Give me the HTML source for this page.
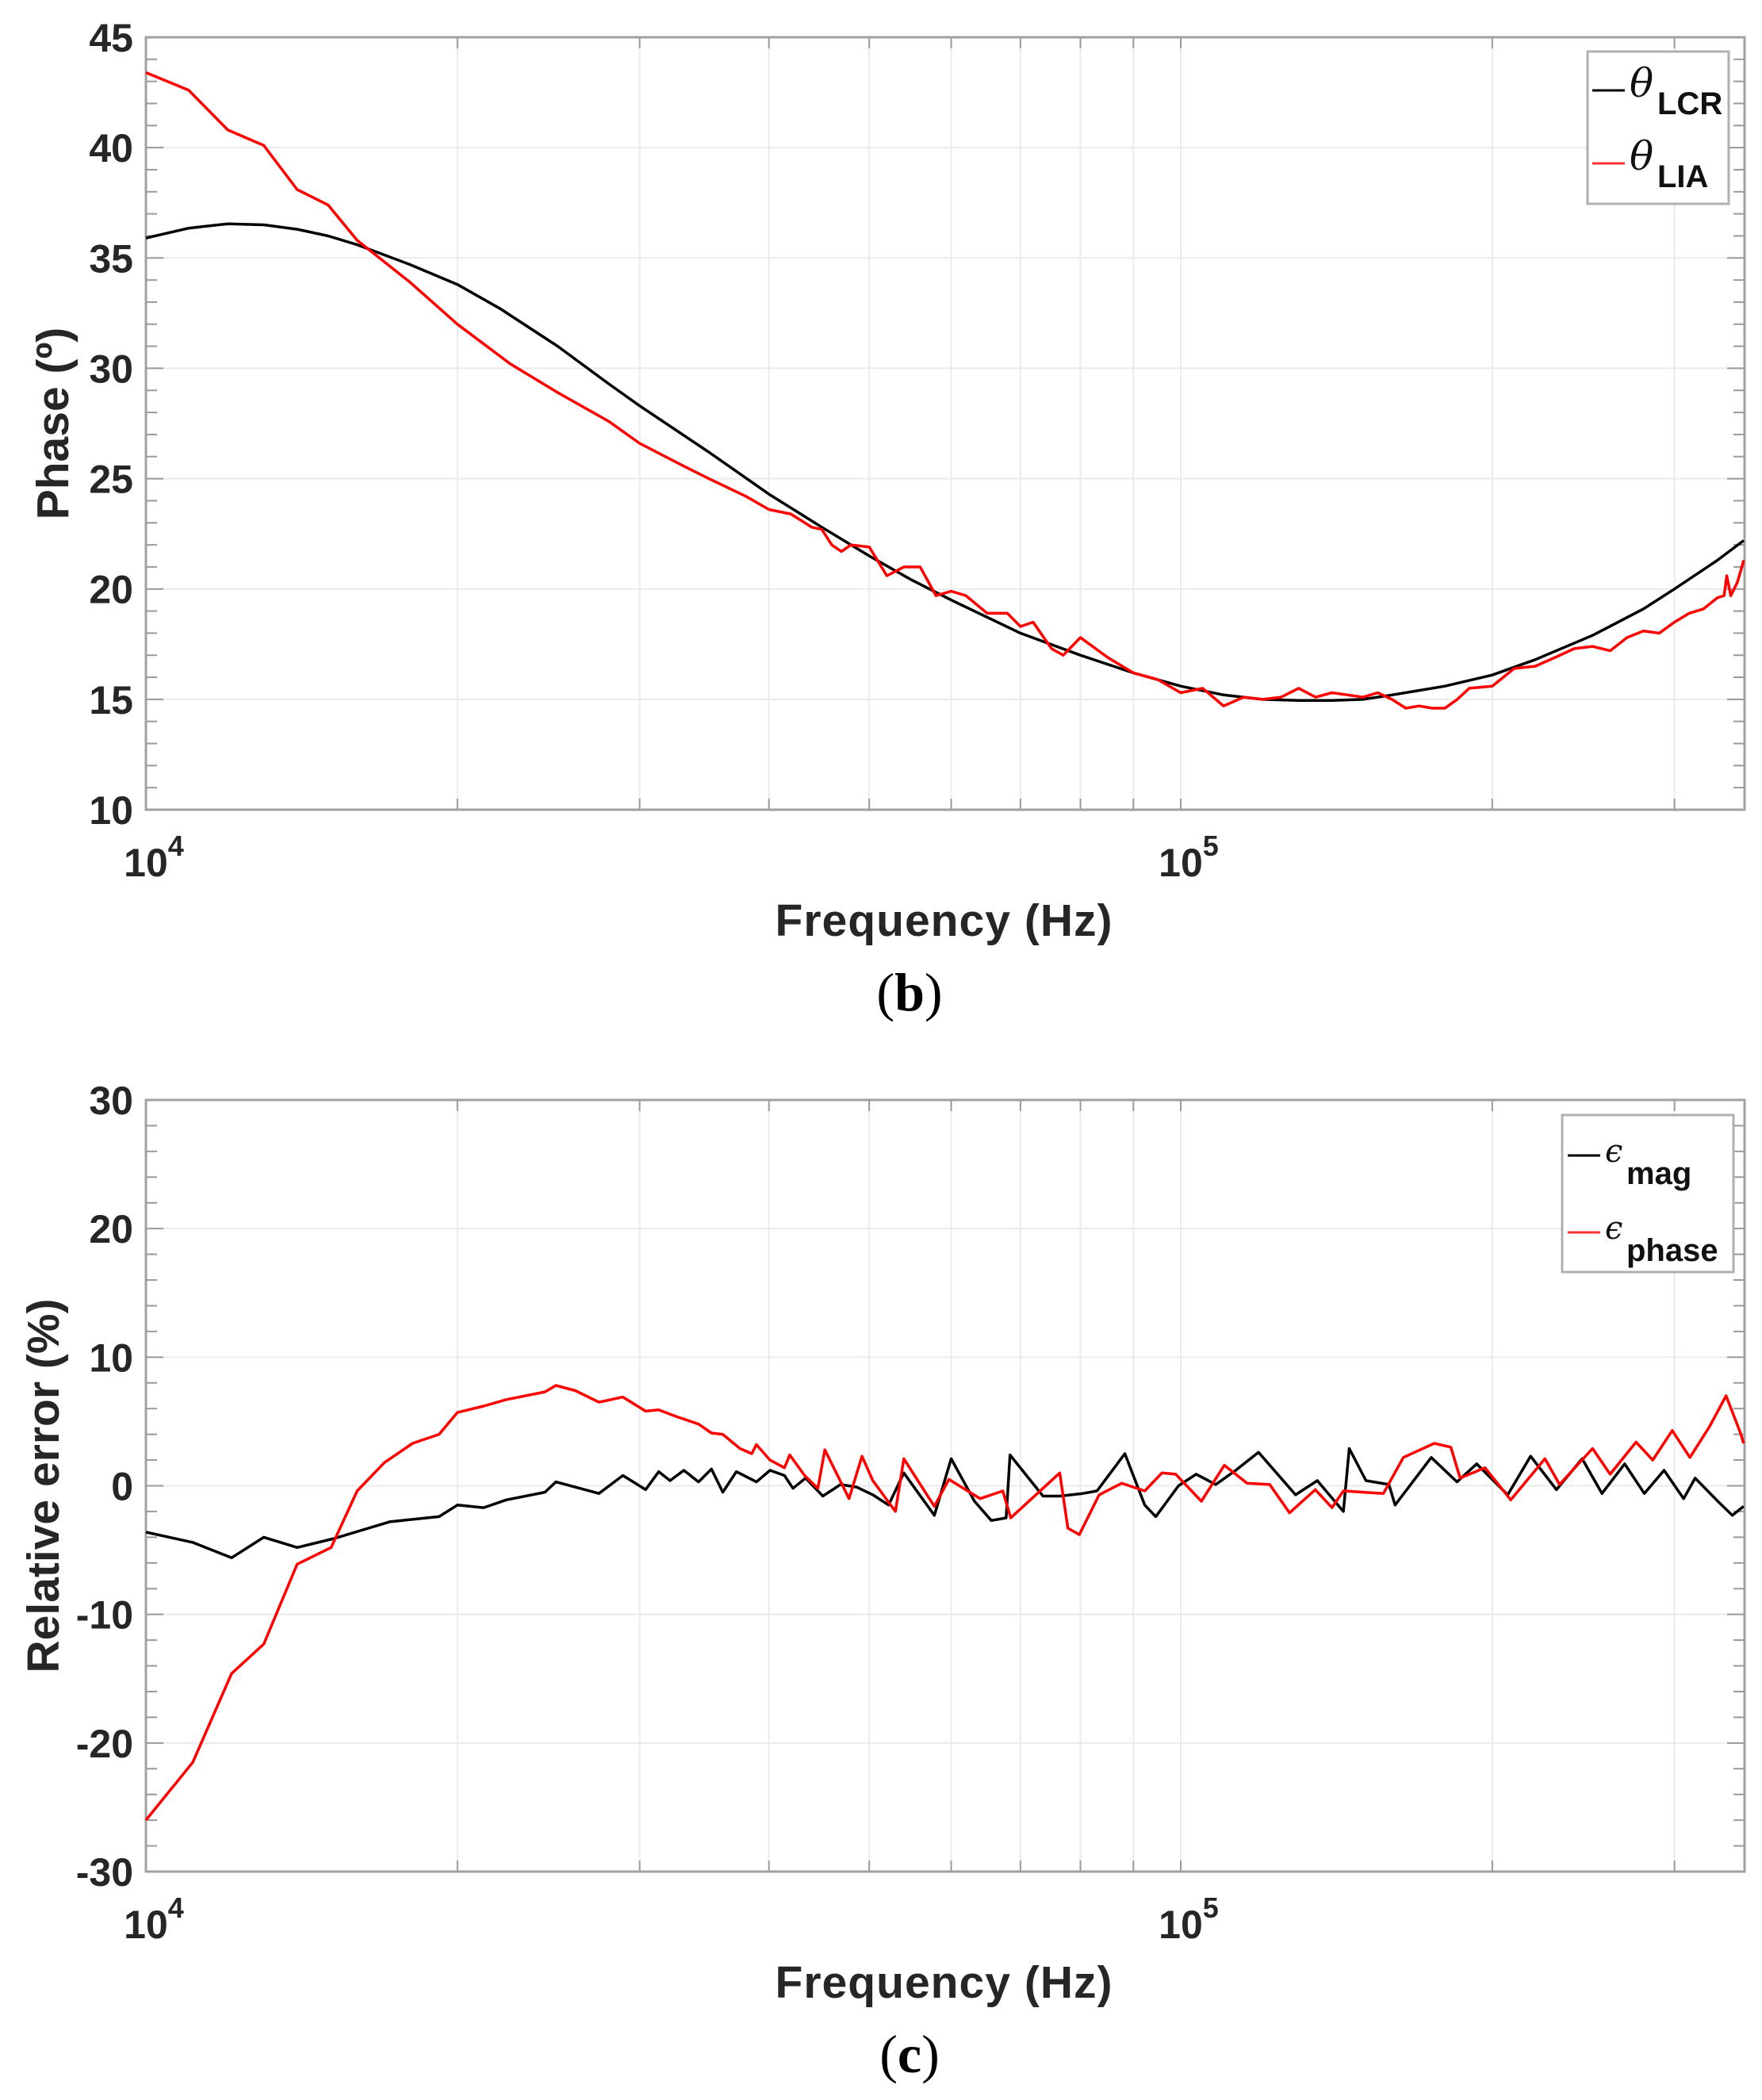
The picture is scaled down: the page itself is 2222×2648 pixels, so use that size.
<!DOCTYPE html>
<html><head><meta charset="utf-8"><style>
html,body{margin:0;padding:0;background:#fff}
svg{display:block}
text{font-family:"Liberation Sans",Arial,sans-serif}
</style></head><body>
<svg id="fig" width="2222" height="2648" viewBox="0 0 2222 2648" xmlns="http://www.w3.org/2000/svg">
<g id="p1"></g>
<g id="p2"></g>
</svg>
<script>
// ---- Chart (b) data: frequency in kHz, phase in degrees
const lcrFreq = [10,11,12,13,14,15,16,18,20,22,25,28,30,35,40,45,50,55,60,70,80,90,100,110,120,130,140,150,160,180,200,220,250,280,300,330,350];
const lcrPhase = [35.9,36.35,36.55,36.5,36.3,36.0,35.6,34.7,33.8,32.7,31.0,29.3,28.3,26.2,24.3,22.8,21.5,20.4,19.5,18.0,17.0,16.2,15.6,15.2,15.0,14.95,14.95,15.0,15.2,15.6,16.1,16.8,17.9,19.1,20.0,21.3,22.2];
const liaFreq = [10,11,12,13,14,15,16,18,20,22.5,25,28,30,33,35,38,40,42,44,45,46,47,48,50,52,54,56,58,60,62,65,68,70,72,75,77,80,85,90,95,100,105,110,115,120,125,130,135,140,145,150,155,160,165,170,175,180,185,190,200,210,220,230,240,250,260,270,280,290,300,310,320,330,335,337,340,345,350];
const liaPhase = [43.4,42.6,40.8,40.1,38.1,37.4,35.8,33.9,32.0,30.2,28.9,27.6,26.6,25.6,25.0,24.2,23.6,23.4,22.8,22.7,22.0,21.7,22.0,21.9,20.6,21.0,21.0,19.7,19.9,19.7,18.9,18.9,18.3,18.5,17.3,17.0,17.8,16.9,16.2,15.9,15.3,15.5,14.7,15.1,15.0,15.1,15.5,15.1,15.3,15.2,15.1,15.3,15.0,14.6,14.7,14.6,14.6,15.0,15.5,15.6,16.4,16.5,16.9,17.3,17.4,17.2,17.8,18.1,18.0,18.5,18.9,19.1,19.6,19.7,20.6,19.7,20.3,21.3];
const yTicks1 = [10,15,20,25,30,35,40,45];
// ---- Chart (c) data: frequency in kHz, relative error in %
const magFreq = [10,11.1,12.1,13.0,14.0,15.2,17.2,19.2,20.0,21.2,22.3,24.3,24.9,27.4,28.9,30.4,31.3,32.1,33.1,34.2,35.2,36.1,37.2,38.9,40.1,41.4,42.2,43.4,45.1,46.9,48.6,50.4,52.2,54.0,57.8,60.0,63.2,65.6,67.8,68.4,73.6,76.4,80.4,83.0,88.3,92.3,94.6,99.5,103.5,108.1,113.0,118.9,129.1,135.5,143.6,145.5,151.0,158.9,161.1,174.6,184.9,193.2,207.0,217.8,230.7,244.3,255.3,268.5,280.5,293.1,306.2,314.1,330.4,341.2,349.9];
const magErr = [-3.6,-4.4,-5.6,-4.0,-4.8,-4.1,-2.8,-2.4,-1.5,-1.7,-1.1,-0.5,0.3,-0.6,0.8,-0.3,1.1,0.4,1.2,0.3,1.3,-0.5,1.1,0.3,1.2,0.8,-0.2,0.6,-0.8,0.1,-0.1,-0.7,-1.5,1.0,-2.3,2.1,-1.2,-2.7,-2.5,2.4,-0.8,-0.8,-0.6,-0.4,2.5,-1.5,-2.4,0,0.9,0.1,1.2,2.6,-0.7,0.4,-2.0,2.9,0.4,0.1,-1.5,2.2,0.3,1.7,-0.7,2.3,-0.3,2.1,-0.6,1.7,-0.6,1.2,-1.0,0.6,-1.2,-2.3,-1.6];
const phaseErrFreq = [10,11.1,12.1,13.0,14.0,15.1,16.0,17.0,18.1,19.2,20.0,21.2,22.3,24.3,24.9,26.0,27.4,28.9,30.4,31.3,32.5,34.2,35.2,36.1,37.5,38.5,38.9,40.1,41.4,41.9,43.3,44.6,45.3,47.8,49.2,50.4,53.0,54.0,57.8,59.7,64.0,67.3,68.5,76.4,77.8,79.8,83.4,87.7,92.3,95.9,98.9,104.7,110.2,115.9,121.9,127.4,134.9,140.0,143.6,157.0,164.1,175.8,182.4,186.2,196.8,208.4,224.9,232.3,250.0,260.0,275.4,285.8,298.5,310.5,324.3,336.5,347.5,349.9];
const phaseErr = [-26.0,-21.5,-14.6,-12.3,-6.1,-4.8,-0.4,1.8,3.3,4.0,5.7,6.2,6.7,7.3,7.8,7.4,6.5,6.9,5.8,5.9,5.4,4.8,4.1,4.0,2.9,2.5,3.2,2.0,1.4,2.4,0.8,-0.2,2.8,-1.0,2.3,0.4,-2.0,2.1,-1.6,0.5,-1.0,-0.4,-2.5,1.0,-3.3,-3.8,-0.7,0.2,-0.4,1.0,0.9,-1.2,1.6,0.2,0.1,-2.1,-0.3,-1.7,-0.4,-0.6,2.2,3.3,3.0,0.6,1.4,-1.1,2.1,0.1,2.9,0.9,3.4,2.0,4.3,2.2,4.6,7.0,4.1,3.3];
const yTicks2 = [-30,-20,-10,0,10,20,30];
const xGridK = [20,30,40,50,60,70,80,90,100,200,300];

const NS='http://www.w3.org/2000/svg';
const L=184,R=2200,DEC=1305;
const fmin=10;
function xs(fk){return L+Math.log10(fk/fmin)*DEC;}
function mk(tag,attrs,parent,txt){const e=document.createElementNS(NS,tag);for(const k in attrs)e.setAttribute(k,attrs[k]);if(txt!==undefined)e.textContent=txt;parent.appendChild(e);return e;}

function chart(g,top,bot,ymin,ymax,yTicks,minorStep,series,yLabel,yLabelX,legend,caption,capY){
  const ys=v=>bot-(v-ymin)/(ymax-ymin)*(bot-top);
  const grid=mk('g',{},g);
  
  
  xGridK.forEach(f=>{const x=xs(f);mk('line',{x1:x,x2:x,y1:top,y2:bot,stroke:'#ebebeb','stroke-width':2},grid);
    mk('line',{x1:x,x2:x,y1:bot,y2:bot-14,stroke:'#9a9a9a','stroke-width':2},grid);mk('line',{x1:x,x2:x,y1:top,y2:top+14,stroke:'#9a9a9a','stroke-width':2},grid);});
  yTicks.forEach(v=>{const y=ys(v);mk('line',{x1:L,x2:R,y1:y,y2:y,stroke:'#ebebeb','stroke-width':2},grid);});
  for(let v=ymin;v<=ymax+1e-9;v+=minorStep){const y=ys(v);const major=yTicks.includes(Math.round(v));const len=major?22:14;
    mk('line',{x1:L,x2:L+len,y1:y,y2:y,stroke:'#9a9a9a','stroke-width':2},grid);mk('line',{x1:R,x2:R-len,y1:y,y2:y,stroke:'#9a9a9a','stroke-width':2},grid);}
  const box=mk('rect',{x:L,y:top,width:R-L,height:bot-top,fill:'none',stroke:'#a0a0a0','stroke-width':3},g);
  
  
  const yl=mk('g',{},g);
  
  
  yTicks.forEach(v=>{mk('text',{x:168,y:ys(v)+18,'text-anchor':'end','font-size':50,'font-weight':'bold',fill:'#262626'},yl,String(v));});
  const xl=mk('g',{},g);
  
  
  [[10,'4'],[100,'5']].forEach(([f,e])=>{const t=mk('text',{x:xs(f)+10,y:bot+84,'text-anchor':'middle','font-size':50,'font-weight':'bold',fill:'#262626'},xl);
    mk('tspan',{},t,'10');mk('tspan',{dy:-26,'font-size':36},t,e);});
  const xt=mk('text',{x:1190,y:bot+159,'text-anchor':'middle','font-size':57,'font-weight':'bold',fill:'#262626',textLength:425},g,'Frequency (Hz)');
  
  
  const yt=mk('text',{x:0,y:0,'text-anchor':'middle','font-size':57,'font-weight':'bold',fill:'#262626',transform:`translate(${yLabelX},${(top+bot)/2}) rotate(-90)`},g,yLabel);
  
  
  series.forEach(s=>{const d=s.f.map((f,i)=>(i?'L':'M')+xs(f).toFixed(1)+' '+ys(s.v[i]).toFixed(1)).join(' ');
    const p=mk('path',{d:d,fill:'none',stroke:s.c,'stroke-width':3.5,'stroke-linejoin':'round'},g);
    
    });
  const lg=mk('g',{},g);
  
  
  mk('rect',{x:legend.x,y:legend.y,width:legend.w,height:legend.h,fill:'#fff',stroke:'#b0b0b0','stroke-width':3},lg);
  legend.items.forEach((it,i)=>{const ly=legend.ly[i];
    const e=mk('g',{},lg);
    
    
    mk('line',{x1:legend.lx,x2:legend.lx+41,y1:ly,y2:ly,stroke:it.c,'stroke-width':3},e);
    mk('text',{x:legend.lx+47,y:ly+legend.sym,'font-size':legend.symSize,fill:'#111',style:'font-family:"DejaVu Serif",serif;font-style:italic'},e,it.sym);
    mk('text',{x:legend.lx+legend.subX,y:ly+legend.subY,'font-size':40,'font-weight':'bold',fill:'#111'},e,it.sub);});
  const cap=mk('text',{x:1147,y:capY,'text-anchor':'middle','font-size':68,fill:'#000',style:'font-family:"Liberation Serif","Times New Roman",serif'},g);
  
  
  mk('tspan',{},cap,'(');mk('tspan',{'font-weight':'bold'},cap,caption);mk('tspan',{},cap,')');
}
chart(document.getElementById('p1'),47,1021,10,45,yTicks1,1,
  [{f:lcrFreq,v:lcrPhase,c:'#000',name:'theta-lcr-line'},{f:liaFreq,v:liaPhase,c:'#ff0000',name:'theta-lia-line'}],
  'Phase (º)',86,
  {x:2002,y:65,w:178,h:192,lx:2008,ly:[114,206],sym:8,symSize:50,subX:82,subY:30,items:[{c:'#000',sym:'θ',sub:'LCR'},{c:'#ff3333',sym:'θ',sub:'LIA'}]},
  'b',1274);
chart(document.getElementById('p2'),1387,2360,-30,30,yTicks2,2,
  [{f:magFreq,v:magErr,c:'#000',name:'epsilon-mag-line'},{f:phaseErrFreq,v:phaseErr,c:'#ff0000',name:'epsilon-phase-line'}],
  'Relative error (%)',74,
  {x:1970,y:1406,w:216,h:198,lx:1977,ly:[1457,1554],sym:8,symSize:40,subX:74,subY:36,items:[{c:'#000',sym:'ϵ',sub:'mag'},{c:'#ff3333',sym:'ϵ',sub:'phase'}]},
  'c',2613);
</script>
</body></html>
